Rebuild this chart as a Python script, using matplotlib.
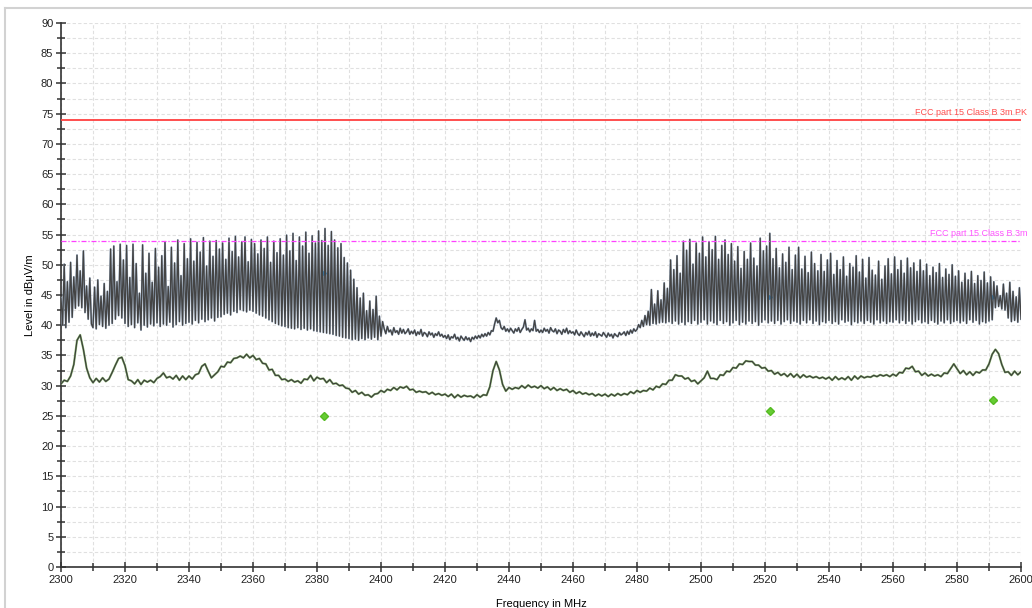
import numpy as np
import matplotlib
matplotlib.use("Agg")
import matplotlib.pyplot as plt
from matplotlib.lines import Line2D

plt.rcParams['font.family'] = ['Liberation Sans', 'DejaVu Sans']

# peak trace, 0.5 MHz steps from 2300 to 2600
freq_pk = np.arange(2300, 2600.01, 0.5)
level_pk = [
    44.5, 40.0, 50.1, 39.6, 47.2, 40.5, 50.4, 41.3, 48.0, 42.8, 51.6, 43.2, 49.0, 42.9, 52.3, 42.1, 46.5, 41.0, 47.8, 40.2,
    39.6, 46.3, 39.4, 47.5, 40.1, 44.8, 39.8, 46.9, 39.5, 45.6, 40.0, 52.6, 40.3, 53.1, 41.0, 47.2, 41.6, 53.4, 41.2, 50.8,
    40.3, 53.2, 39.8, 47.9, 40.1, 53.4, 39.6, 50.2, 40.4, 45.3, 39.2, 53.3, 40.0, 48.6, 39.7, 51.9, 40.2, 47.1, 39.9, 52.7,
    40.4, 49.6, 39.8, 51.5, 40.2, 53.8, 40.0, 46.4, 40.5, 52.9, 39.7, 50.3, 40.1, 54.1, 40.6, 48.2, 40.0, 53.5, 40.3, 51.0,
    40.5, 54.3, 40.2, 50.6, 40.8, 53.7, 40.4, 52.1, 41.0, 54.5, 40.6, 49.8, 40.9, 53.9, 41.2, 51.4, 40.7, 54.0, 41.3, 52.6,
    41.4, 53.6, 41.8, 50.9, 42.0, 54.4, 41.7, 52.2, 42.3, 54.7, 42.1, 51.3, 42.6, 53.8, 42.4, 54.6, 42.2, 50.5, 42.5, 54.2,
    42.3, 53.5, 42.0, 51.8, 41.7, 54.1, 41.5, 52.7, 41.2, 54.6, 40.9, 50.4, 40.6, 53.9, 40.3, 52.0, 40.1, 54.3, 39.9, 51.6,
    39.8, 54.9, 39.6, 52.3, 39.5, 55.2, 39.4, 50.7, 39.6, 54.6, 39.3, 53.1, 39.5, 55.4, 39.2, 51.9, 39.4, 54.8, 39.1, 53.6,
    39.0, 55.6, 38.9, 54.0, 38.8, 56.0, 38.7, 53.2, 38.6, 55.5, 38.5, 54.1, 38.3, 52.8, 38.2, 53.5, 38.0, 51.2, 37.9, 50.3,
    37.8, 49.1, 37.6, 47.6, 37.7, 46.2, 37.5, 44.5, 37.8, 45.3, 37.6, 42.4, 37.9, 44.0, 37.7, 42.6, 38.0, 44.8, 37.6, 41.5,
    38.2, 40.6, 39.4, 38.6, 39.8, 38.9, 39.2, 38.4, 39.6, 38.8, 39.1, 38.5, 39.5, 38.7, 39.3, 38.6, 38.9, 39.4, 38.5, 39.0,
    38.6, 39.2, 38.3, 38.9, 38.5, 39.3, 38.2, 38.8, 38.6, 38.1, 38.9, 38.4, 38.7, 38.0, 38.6, 38.3, 38.9, 38.2, 38.5, 38.0,
    38.3, 37.8, 38.4, 37.6, 38.1, 37.9, 38.5, 37.7, 38.0, 37.4, 38.2, 37.8, 37.5, 38.1, 37.6, 37.9, 37.3, 38.0, 37.7, 38.2,
    37.8, 38.3, 37.9, 38.5, 38.1, 38.6, 38.2, 38.8, 38.4, 39.1, 39.0, 40.2, 41.2, 40.4, 40.8, 39.6, 39.3, 39.8, 39.0, 39.4,
    38.9, 39.5, 39.1, 38.7, 39.4, 39.0, 39.6, 38.8, 39.3, 39.7, 40.9, 39.2, 39.5, 38.9, 39.4, 39.1, 40.8, 39.0, 39.3, 38.8,
    39.2, 38.8, 39.5, 39.0, 39.3, 38.7, 39.6, 39.1, 38.9, 39.4, 38.6, 39.2, 39.0, 38.5, 39.3, 38.8, 39.5, 38.6, 39.1, 38.7,
    38.9, 38.4, 39.2, 38.6, 38.3, 38.9, 38.5, 38.1, 38.8, 38.4, 39.0, 38.2, 38.7, 38.3, 38.9, 38.0, 38.6, 38.4, 38.2, 38.8,
    38.4, 38.0, 38.7, 38.2, 38.5, 37.9, 38.6, 38.3, 38.1, 38.8, 38.4, 38.6, 38.9, 38.3, 39.0, 38.5, 39.2, 38.7, 39.4, 39.0,
    39.3, 40.1, 39.6, 40.8, 39.8, 41.6, 40.1, 42.3, 40.0, 45.9, 40.3, 43.5, 40.2, 45.7, 40.4, 44.2, 40.5, 47.0, 40.4, 46.1,
    40.6, 50.8, 40.3, 49.2, 40.7, 51.5, 40.2, 48.6, 40.5, 53.9, 40.1, 52.4, 40.6, 54.2, 40.3, 50.1, 40.8, 53.6, 40.2, 51.9,
    40.5, 54.6, 40.9, 51.3, 40.2, 53.8, 40.7, 52.5, 40.4, 54.7, 40.1, 50.9, 40.8, 53.2, 40.3, 54.1, 40.6, 51.7, 40.0, 53.5,
    40.4, 50.6, 40.8, 53.0, 40.1, 49.4, 40.5, 52.2, 40.2, 50.9, 40.7, 53.6, 40.3, 51.1, 40.6, 49.8, 40.0, 54.4, 40.5, 52.3,
    40.9, 53.1, 40.4, 55.2, 40.7, 51.0, 40.3, 52.7, 40.8, 49.5, 40.2, 51.8, 40.6, 50.4, 40.9, 52.9, 40.3, 49.2, 40.7, 51.6,
    40.5, 52.9, 40.2, 49.3, 40.8, 51.4, 40.4, 48.7, 40.9, 52.1, 40.3, 50.2, 40.7, 49.0, 40.1, 51.7, 40.6, 48.9, 40.4, 50.8,
    40.8, 51.9, 40.3, 48.4, 40.6, 50.7, 40.2, 49.2, 40.9, 51.3, 40.5, 48.1, 40.7, 50.2, 40.1, 49.6, 40.6, 51.5, 40.4, 48.8,
    40.7, 50.9, 40.3, 47.8, 40.8, 51.2, 40.5, 49.1, 40.2, 48.3, 40.9, 50.6, 40.4, 47.6, 40.7, 49.8, 40.3, 51.0, 40.6, 48.5,
    40.5, 51.3, 40.9, 49.2, 40.4, 50.7, 40.8, 48.6, 40.3, 51.1, 40.7, 49.5, 40.2, 50.3, 40.6, 48.9, 40.9, 50.8, 40.4, 49.0,
    40.6, 50.1, 40.3, 48.2, 40.8, 49.6, 40.5, 48.7, 40.2, 50.2, 40.7, 47.9, 40.4, 49.3, 40.9, 48.4, 40.3, 50.0, 40.6, 48.1,
    40.8, 49.0, 40.4, 47.1, 40.7, 48.6, 40.3, 47.5, 40.9, 48.9, 40.5, 46.9, 40.8, 48.2, 40.2, 47.4, 40.6, 48.8, 40.4, 47.0,
    40.7, 48.0, 40.9, 47.2, 42.9, 46.5, 43.1, 44.9, 42.7, 46.8, 42.5, 45.3, 41.2, 47.1, 40.6, 45.6, 40.8, 44.7, 40.5, 46.2,
    41.0,
]

# average trace, 1 MHz steps from 2300 to 2600
freq_av = np.arange(2300, 2601, 1)
level_av = [
    30.3, 30.9, 30.7, 31.6, 33.5, 37.5, 38.4, 36.0, 32.9, 31.3,
    30.5, 31.2, 30.6, 31.3, 30.7, 31.1, 32.2, 33.4, 34.5, 34.7,
    33.3, 31.0, 30.8, 30.3, 31.0, 30.2, 30.9, 30.6, 30.9, 30.5,
    31.2, 31.5, 32.1, 31.3, 31.5, 31.1, 31.7, 30.9, 31.6, 31.0,
    31.6, 31.1, 31.8, 32.0, 33.2, 33.6, 32.4, 31.3, 31.8, 32.3,
    33.2, 33.1, 33.9, 33.8, 34.5, 34.6, 34.9, 34.6, 35.2, 34.6,
    35.0, 34.3, 34.5, 33.7, 33.6, 32.6, 32.7, 31.7, 31.7, 31.0,
    31.1, 30.7, 31.0, 30.6, 30.8, 30.4, 31.1, 31.0, 31.7, 30.8,
    31.4, 31.1, 31.2, 30.5, 31.0, 30.3, 30.4, 30.0, 30.1, 29.6,
    29.5, 28.9, 29.2, 28.6, 28.9, 28.4, 28.5, 28.1, 28.6, 28.7,
    29.2, 28.9, 29.4, 29.2, 29.7, 29.3, 29.8, 29.6, 29.9, 29.3,
    29.4, 28.9, 29.1, 28.9, 29.0, 28.6, 28.9, 28.5, 28.7, 28.4,
    28.6, 28.2, 28.6, 28.0, 28.5, 28.1, 28.4, 28.2, 28.3, 28.0,
    28.5, 28.1, 28.5, 28.4, 29.8, 32.5, 34.0, 32.6, 30.2, 29.1,
    29.7, 29.4, 29.7, 29.5, 30.0, 29.6, 30.1, 29.7, 29.9, 29.6,
    30.0, 29.5, 29.8, 29.3, 29.7, 29.2, 29.5, 29.2, 29.4, 28.9,
    29.2, 28.7, 29.0, 28.6, 28.8, 28.5, 28.7, 28.3, 28.6, 28.3,
    28.6, 28.2, 28.6, 28.3, 28.7, 28.4, 28.7, 28.5, 29.0, 28.7,
    29.2, 28.9, 29.2, 29.1, 29.6, 29.3, 29.9, 29.7, 30.3, 30.2,
    30.9, 30.9, 31.8, 31.6, 31.6, 31.1, 31.3, 30.7, 30.9, 30.3,
    30.8, 31.3, 32.4, 31.2, 31.2, 31.0, 31.8, 31.7, 32.4, 32.3,
    33.0, 32.9, 33.6, 33.5, 34.1, 34.0, 34.0, 33.4, 33.4, 32.9,
    33.0, 32.4, 32.5, 31.9, 32.2, 31.7, 32.0, 31.5, 32.0, 31.4,
    31.9, 31.3, 31.8, 31.4, 31.6, 31.3, 31.5, 31.2, 31.4, 31.1,
    31.4, 30.9, 31.5, 31.0, 31.3, 31.0, 31.5, 30.9, 31.6, 31.1,
    31.6, 31.3, 31.5, 31.4, 31.7, 31.5, 31.8, 31.6, 31.8, 31.5,
    31.9, 31.6, 32.2, 32.1, 32.9, 32.8, 33.2, 32.3, 32.4, 31.7,
    32.1, 31.6, 31.9, 31.6, 31.8, 31.5, 32.1, 32.0, 32.8, 33.6,
    32.8, 32.0, 32.5, 31.8, 32.3, 31.7, 32.3, 32.1, 32.6, 32.6,
    33.6, 35.2, 36.0, 35.3, 33.5, 32.2, 32.3, 31.7, 32.4, 31.8,
    32.3,
]

# final measurement points
final_freq = [2382.2, 2521.6, 2591.3]
final_av = [24.95, 25.8, 27.6]
final_pk = [48.6, 44.6, 44.6]

limit_pk = 74
limit_av = 54
limit_pk_name = 'FCC part 15 Class B 3m PK'
limit_av_name = 'FCC part 15 Class B 3m'

fig = plt.figure(figsize=(10.32, 6.08), dpi=100)
ax = fig.add_axes([61/1032, 41/608, 960/1032, 544/608])

# thin gray frame (top and left)
fig.add_artist(Line2D([5/1032, 1], [600/608, 600/608], color='#d2d2d2', lw=1.5))
fig.add_artist(Line2D([5/1032, 5/1032], [0, 600/608], color='#d2d2d2', lw=1.5))

ax.plot(freq_pk, level_pk, color='#a3b6cd', lw=1.4, zorder=3)
ax.plot(freq_pk, level_pk, color='#444444', lw=0.95, zorder=4)
ax.plot(freq_av, level_av, color='#80ad66', lw=1.5, zorder=3)
ax.plot(freq_av, level_av, color='#3c3c3c', lw=0.8, zorder=4)

ax.axhline(limit_pk, color='#ff4040', lw=1.3, zorder=5)
ax.axhline(limit_av, color='#ff40ff', lw=0.9, ls=(0, (4, 1.5, 1, 1.5)), zorder=5)
ax.text(2601.9, limit_pk + 0.4, limit_pk_name, color='#ff5050', fontsize=6.5,
        ha='right', va='bottom', clip_on=False)
ax.text(2601.9, limit_av + 0.4, limit_av_name, color='#ff55ff', fontsize=6.5,
        ha='right', va='bottom', clip_on=False)

ax.plot(final_freq, final_av, 'D', color='#66cc33', ms=4.5, mec='#55bb22', zorder=6)
ax.plot(final_freq, final_pk, '>', color='#3a8fd0', ms=3, zorder=3.5)

ax.set_xlim(2300, 2600)
ax.set_ylim(0, 90)
ax.set_xticks(np.arange(2300, 2601, 20))
ax.set_xticks(np.arange(2300, 2601, 10), minor=True)
ax.set_yticks(np.arange(0, 91, 5))
ax.set_yticks(np.arange(0, 91, 2.5), minor=True)

ax.grid(which='both', color='#e0e0e0', ls=(0, (3, 2)), lw=0.8, zorder=0)
for s in ['top', 'right']:
    ax.spines[s].set_visible(False)
for s in ['left', 'bottom']:
    ax.spines[s].set_color('#333333')
    ax.spines[s].set_linewidth(1.2)

ax.tick_params(which='major', direction='inout', length=7, width=1.1, color='#333333',
               labelsize=8, labelcolor='#222222', pad=2)
ax.tick_params(which='minor', direction='inout', length=6, width=1.1, color='#333333')

ax.set_xlabel('Frequency in MHz', fontsize=8, labelpad=10)
ax.set_ylabel('Level in dBμV/m', fontsize=8, labelpad=4)

fig.savefig('out.png', dpi=100)
